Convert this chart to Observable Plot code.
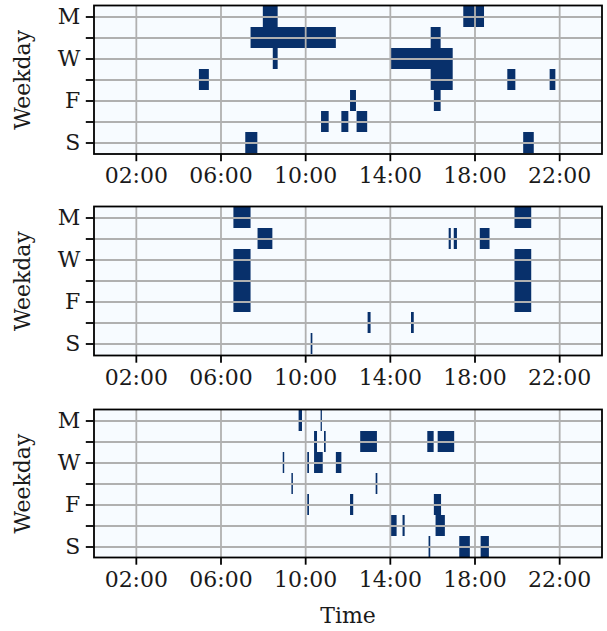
<!DOCTYPE html>
<html>
<head>
<meta charset="utf-8">
<script src="https://cdn.jsdelivr.net/npm/d3@7"></script>
<script src="https://cdn.jsdelivr.net/npm/@observablehq/plot@0.6"></script>
<style>
  html, body { margin: 0; padding: 0; background: #ffffff; }
  #chart svg { display: block; }
</style>
</head>
<body>
<div id="chart"></div>
<script>
// Weekday rows (top to bottom) and their tick labels
const days = ["Mon", "Tue", "Wed", "Thu", "Fri", "Sat", "Sun"];
const dayLabels = ["M", "", "W", "", "F", "", "S"];

// Time axis ticks (hours) and labels
const xTicks = [2, 6, 10, 14, 18, 22];
const xTickLabels = ["02:00", "06:00", "10:00", "14:00", "18:00", "22:00"];

// Active intervals per panel: [weekday, start hour, end hour]
const panel1 = [
  ["Mon", 8.0, 8.7], ["Mon", 17.47, 18.45],
  ["Tue", 7.42, 11.45], ["Tue", 15.93, 16.40],
  ["Wed", 8.47, 8.70], ["Wed", 14.05, 16.97],
  ["Thu", 4.98, 5.45], ["Thu", 15.93, 16.97], ["Thu", 19.55, 19.93], ["Thu", 21.55, 21.82],
  ["Fri", 12.12, 12.40], ["Fri", 16.08, 16.40],
  ["Sat", 10.75, 11.11], ["Sat", 11.71, 12.04], ["Sat", 12.43, 12.93],
  ["Sun", 7.17, 7.74], ["Sun", 20.3, 20.8]
];

const panel2 = [
  ["Mon", 6.61, 7.42], ["Mon", 19.89, 20.68],
  ["Tue", 7.75, 8.45], ["Tue", 16.78, 16.88], ["Tue", 17.02, 17.17], ["Tue", 18.25, 18.71],
  ["Wed", 6.61, 7.42], ["Wed", 19.89, 20.68],
  ["Thu", 6.61, 7.42], ["Thu", 19.89, 20.68],
  ["Fri", 6.61, 7.42], ["Fri", 19.89, 20.68],
  ["Sat", 12.95, 13.09], ["Sat", 15.0, 15.13],
  ["Sun", 10.26, 10.34]
];

const panel3 = [
  ["Mon", 9.69, 9.85], ["Mon", 10.73, 10.79],
  ["Tue", 10.42, 10.56], ["Tue", 10.89, 10.97], ["Tue", 12.6, 13.39], ["Tue", 15.77, 16.07], ["Tue", 16.26, 17.04],
  ["Wed", 8.94, 9.01], ["Wed", 10.1, 10.18], ["Wed", 10.42, 10.83], ["Wed", 11.45, 11.71],
  ["Thu", 9.35, 9.42], ["Thu", 13.33, 13.41],
  ["Fri", 10.1, 10.18], ["Fri", 12.12, 12.27], ["Fri", 16.08, 16.42],
  ["Sat", 14.05, 14.32], ["Sat", 14.6, 14.7], ["Sat", 16.16, 16.6],
  ["Sun", 15.83, 15.91], ["Sun", 17.28, 17.78], ["Sun", 18.29, 18.68]
];

const BG = "#f7fbff", ON = "#08306b", GRID = "#b0b0b0";
const FONT = "'DejaVu Serif', serif";

function panel(data, {height, marginTop, marginBottom, xLabel}) {
  const marks = [
    Plot.frame({fill: BG, stroke: null}),
    Plot.barX(data, {y: d => d[0], x1: d => d[1], x2: d => d[2], fill: ON, inset: 0}),
    Plot.gridX(xTicks, {stroke: GRID, strokeOpacity: 1, strokeWidth: 1.8}),
    Plot.gridY(days, {stroke: GRID, strokeOpacity: 1, strokeWidth: 1.8}),
    Plot.frame({stroke: "black", strokeWidth: 1.8}),
    Plot.axisX(xTicks, {
      tickFormat: d => xTickLabels[xTicks.indexOf(d)],
      tickSize: 7.7, tickPadding: 6, strokeWidth: 1.8, label: null,
      fontSize: 22, fill: "#1a1a1a"
    }),
    Plot.axisY(days, {
      tickFormat: d => dayLabels[days.indexOf(d)],
      tickSize: 7.7, tickPadding: 6, strokeWidth: 1.8, label: null,
      fontSize: 22, fill: "#1a1a1a"
    }),
    Plot.text(["Weekday"], {
      frameAnchor: "left", dx: -71.5, rotate: -90, textAnchor: "middle",
      fontSize: 22, fill: "#1a1a1a", text: d => d
    })
  ];
  if (xLabel) {
    marks.push(Plot.text([xLabel], {frameAnchor: "bottom", dy: 65, fontSize: 22, fill: "#1a1a1a", text: d => d}));
  }
  return Plot.plot({
    width: 607,
    height,
    marginLeft: 93.5,
    marginRight: 5.5,
    marginTop,
    marginBottom,
    style: {fontFamily: FONT, fontSize: "22px", background: "#ffffff", overflow: "visible"},
    x: {domain: [0, 24]},
    y: {domain: days, padding: 0},
    marks
  });
}

const root = document.getElementById("chart");
root.appendChild(panel(panel1, {height: 202, marginTop: 5, marginBottom: 48.5}));
root.appendChild(panel(panel2, {height: 202, marginTop: 4, marginBottom: 49}));
root.appendChild(panel(panel3, {height: 227, marginTop: 5, marginBottom: 74, xLabel: "Time"}));
</script>
</body>
</html>
